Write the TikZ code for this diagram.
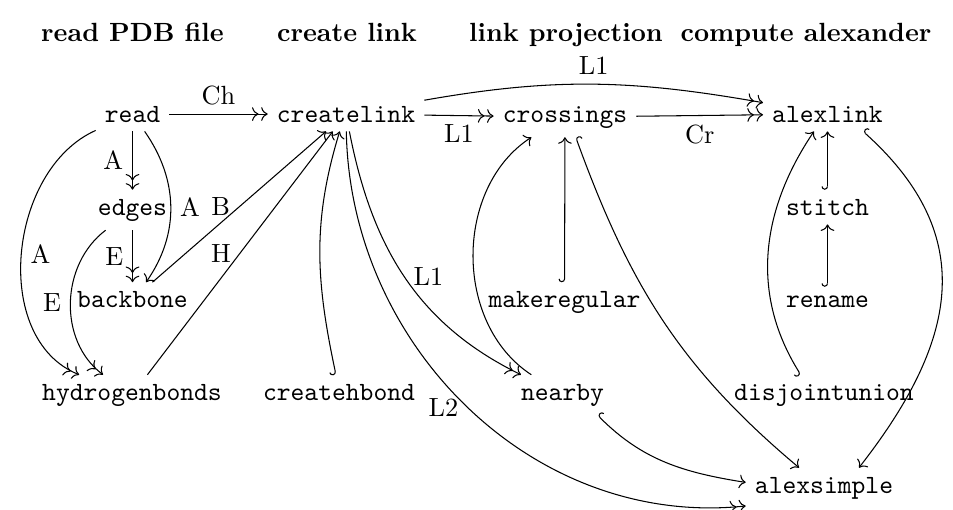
\documentclass[tikz,border=0pt]{standalone}
\usetikzlibrary{arrows.meta}
\begin{document}
\begin{tikzpicture}[x=0.38pt,y=-0.38pt,
  cell/.style={inner sep=3.3pt, font=\ttfamily, anchor=base},
  head/.style={inner sep=0pt, font=\bfseries, anchor=base},
  lab/.style={font=\normalfont, inner sep=3.33pt},
  dbl/.style={-{Computer Modern Rightarrow[sep=1pt]Computer Modern Rightarrow}},
  sgl/.style={-{Computer Modern Rightarrow}},
  hk/.style={{Hooks[right]}-{Computer Modern Rightarrow}}]
\useasboundingbox (0,0) rectangle (953,509);
% headers
\node[head] (h1) at (132.5,41) {read PDB file};
\node[head] (h2) at (347,41) {create link};
\node[head] (h3) at (566,41) {link projection};
\node[head] (h4) at (806,41) {compute alexander};
% cells
\node[cell] (read) at (132.5,122) {read};
\node[cell] (createlink) at (346,122) {createlink};
\node[cell] (crossings) at (565,122) {crossings};
\node[cell] (alexlink) at (827.5,122) {alexlink};
\node[cell] (edges) at (132.5,215) {edges};
\node[cell] (stitch) at (827.5,215) {stitch};
\node[cell] (backbone) at (132.5,307.5) {backbone};
\node[cell] (makeregular) at (564.5,307.5) {makeregular};
\node[cell] (rename) at (827.5,307.5) {rename};
\node[cell] (hydrogenbonds) at (132,400) {hydrogenbonds};
\node[cell] (createhbond) at (339,400) {createhbond};
\node[cell] (nearby) at (562.5,400) {nearby};
\node[cell] (disjointunion) at (824,400) {disjointunion};
\node[cell] (alexsimple) at (824,493) {alexsimple};
% arrows
\draw[dbl] (read) -- node[lab,anchor=south] {Ch} (createlink);
\draw[dbl] (createlink) -- node[lab,anchor=north] {L1} (crossings);
\draw[dbl] (createlink.10) to[out=10,in=170] node[lab,anchor=south] {L1} (alexlink.170);
\draw[dbl] (crossings) -- node[lab,anchor=north] {Cr} (alexlink);
\draw[dbl] (read) -- node[lab,anchor=east] {A} (edges);
\draw[dbl] (edges) -- node[lab,anchor=east] {E} (backbone);
\draw[sgl] (read.305) to[out=305,in=55] node[lab,anchor=west] {A} (backbone.52);
\draw[sgl] (backbone) -- node[lab,anchor=east] {B} (createlink);
\draw[dbl] (read.204) to[out=204,in=158] node[lab,anchor=west] {A} (hydrogenbonds.159);
\draw[dbl] (edges.217) to[out=217,in=143] node[lab,anchor=east] {E} (hydrogenbonds.145);
\draw[sgl] (hydrogenbonds) -- node[lab,anchor=east] {H} (createlink);
\draw[hk] (createhbond.100) to[out=102,in=253] (createlink.250);
\draw[dbl] (createlink.281) to[out=281,in=154] node[lab,anchor=west] {L1} (nearby.154);
\draw[dbl] (createlink.271) to[out=271,in=186] node[lab,anchor=east] {L2} (alexsimple.193);
\draw[sgl] (nearby.147) to[out=147,in=213] (crossings.211);
\draw[hk] (makeregular) -- (crossings);
\draw[hk] (crossings.298) to[out=290,in=140] (alexsimple.141);
\draw[hk] (nearby.330) to[out=315,in=171] (alexsimple.176);
\draw[hk] (alexlink.334) to[out=318,in=52,looseness=1.2] (alexsimple.30);
\draw[hk] (disjointunion.139) to[out=122,in=236] (alexlink.232);
\draw[hk] (stitch) -- (alexlink);
\draw[hk] (rename) -- (stitch);
\end{tikzpicture}
\end{document}
